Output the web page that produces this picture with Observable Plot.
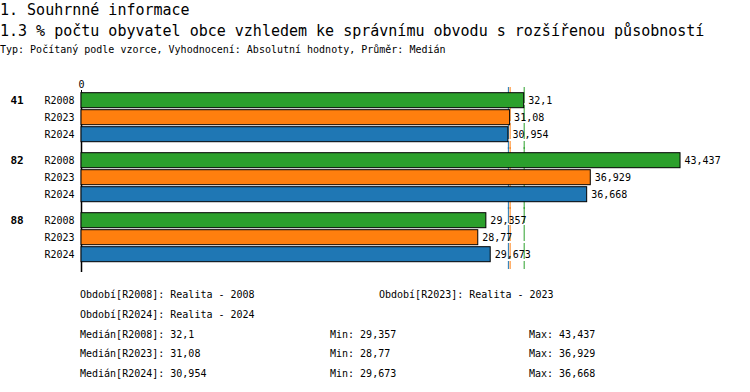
<!DOCTYPE html>
<html><head><meta charset="utf-8">
<script src="https://cdn.jsdelivr.net/npm/d3@7"></script>
<script src="https://cdn.jsdelivr.net/npm/@observablehq/plot@0.6"></script>
<style>
body{margin:0;background:#fff;}
#wrap{position:relative;width:750px;height:392px;overflow:hidden;font-family:"DejaVu Sans Mono",monospace;color:#000;}
.t{position:absolute;white-space:pre;line-height:1;}
#plot{position:absolute;left:0;top:60px;}
</style></head><body><div id="wrap"><div id="plot"></div></div>
<script>
// ---- data ----
const title = "1. Souhrnné informace";
const subtitle = "1.3 % počtu obyvatel obce vzhledem ke správnímu obvodu s rozšířenou působností";
const typeLine = "Typ: Počítaný podle vzorce, Vyhodnocení: Absolutní hodnoty, Průměr: Medián";
const groups = ["41", "82", "88"];
const periods = ["R2008", "R2023", "R2024"];
const periodNames = ["Realita - 2008", "Realita - 2023", "Realita - 2024"];
const values2008 = [32.1, 43.437, 29.357];
const values2023 = [31.08, 36.929, 28.77];
const values2024 = [30.954, 36.668, 29.673];
const colors = ["#2ca02c", "#ff7f0e", "#1f77b4"];
const xMax = 43.87;

const series = [values2008, values2023, values2024];
const fmt = v => String(v).replace(".", ",");
const data = groups.flatMap((g, i) => periods.map((p, j) => ({group: g, period: p, value: series[j][i]})));
const stats = periods.map((p, j) => ({
  period: p,
  value: d3.median(series[j]),
  min: d3.min(series[j]),
  max: d3.max(series[j])
}));

// ---- text ----
const wrap = document.getElementById("wrap");
function addText(str, x, cy, size, extra) {
  const el = document.createElement("div");
  el.className = "t";
  el.textContent = str;
  el.style.left = x + "px";
  el.style.top = (cy - size / 2) + "px";
  el.style.fontSize = size + "px";
  if (extra) Object.assign(el.style, extra);
  wrap.appendChild(el);
}
addText(title, 0, 10, 15);
addText(subtitle, 0, 31, 15);
addText(typeLine, 0, 50, 10);

addText(`Období[${periods[0]}]: ${periodNames[0]}`, 80, 295, 10);
addText(`Období[${periods[1]}]: ${periodNames[1]}`, 379, 295, 10);
addText(`Období[${periods[2]}]: ${periodNames[2]}`, 80, 314.5, 10);
stats.forEach((s, j) => {
  const cy = 334.5 + j * 19.8;
  addText(`Medián[${s.period}]: ${fmt(s.value)}`, 80, cy, 10);
  addText(`Min: ${fmt(s.min)}`, 330, cy, 10);
  addText(`Max: ${fmt(s.max)}`, 529, cy, 10);
});

// ---- chart ----
const chart = Plot.plot({
  width: 750,
  height: 220,
  marginTop: 32.3,
  marginBottom: 16.2,
  marginLeft: 81,
  marginRight: 64,
  style: {fontFamily: "'DejaVu Sans Mono', monospace", fontSize: "10px", color: "#000", background: "transparent"},
  x: {domain: [0, xMax]},
  y: {domain: periods, paddingInner: 0.139, paddingOuter: 0},
  fy: {domain: groups, paddingInner: 0.1417, paddingOuter: 0, axis: null},
  color: {domain: periods, range: colors},
  marks: [
    Plot.ruleX(stats, {x: "value", stroke: "period", strokeWidth: 1, strokeDasharray: "16,2", insetTop: -5, insetBottom: -6}),
    Plot.ruleX([0], {stroke: "#000", strokeWidth: 1.5, insetBottom: -9}),
    Plot.axisX({anchor: "top", ticks: [0], tickSize: 3, tickPadding: 2, line: true, label: null, tickFormat: d => String(d)}),
    Plot.axisY({tickSize: 0, tickPadding: 7, label: null}),
    Plot.barX(data, {x: "value", y: "period", fy: "group", fill: "period", stroke: "#000", strokeWidth: 1}),
    Plot.text(data, {x: "value", y: "period", fy: "group", text: d => fmt(d.value), dx: 4, textAnchor: "start", fill: "#000"}),
    Plot.text(data.filter(d => d.period === periods[0]), {y: "period", fy: "group", text: "group", frameAnchor: "left", dx: -71, textAnchor: "start", fontWeight: "bold", fontSize: 11, fill: "#000"})
  ]
});
document.getElementById("plot").appendChild(chart);
</script></body></html>
